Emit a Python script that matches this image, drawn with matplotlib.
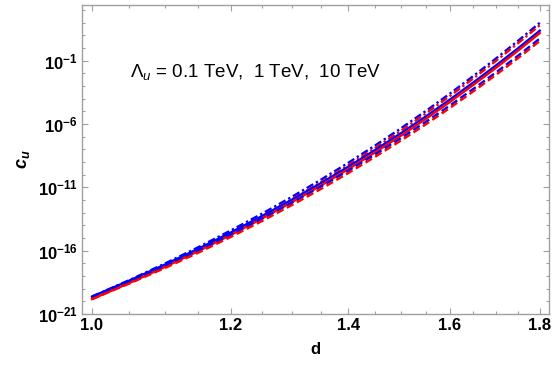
import numpy as np
import matplotlib
matplotlib.use("Agg")
import matplotlib.pyplot as plt
from matplotlib.ticker import FixedLocator, FixedFormatter, NullFormatter

plt.rcParams["font.family"] = ["Liberation Sans", "DejaVu Sans"]
plt.rcParams["mathtext.fontset"] = "custom"
plt.rcParams["mathtext.rm"] = "Liberation Sans"
plt.rcParams["mathtext.it"] = "Liberation Sans:italic"
plt.rcParams["mathtext.bf"] = "Liberation Sans:bold"
plt.rcParams["mathtext.sf"] = "Liberation Sans:bold:italic"

# scaling dimension d
d = [1.00, 1.05, 1.10, 1.15, 1.20, 1.25, 1.30, 1.35, 1.40,
     1.45, 1.50, 1.55, 1.60, 1.65, 1.70, 1.75, 1.80]

# log10(c_u)
blue_mid = [-19.63, -18.37, -17.11, -15.84, -14.56, -13.27, -11.98, -10.68, -9.37,
            -8.05, -6.73, -5.40, -4.06, -2.71, -1.36, 0.00, 1.37]
red_mid = [-19.82, -18.56, -17.30, -16.03, -14.75, -13.46, -12.17, -10.87, -9.56,
           -8.24, -6.92, -5.59, -4.25, -2.90, -1.55, -0.19, 1.18]
blue_hi = [-19.63, -18.33, -17.03, -15.72, -14.40, -13.08, -11.75, -10.41, -9.06,
           -7.70, -6.34, -4.97, -3.59, -2.20, -0.81, 0.59, 1.99]
red_hi = [-19.82, -18.52, -17.22, -15.91, -14.59, -13.27, -11.94, -10.60, -9.25,
          -7.89, -6.53, -5.16, -3.78, -2.39, -1.00, 0.40, 1.80]
blue_lo = [-19.63, -18.41, -17.19, -15.96, -14.72, -13.47, -12.21, -10.95, -9.68,
           -8.40, -7.12, -5.83, -4.53, -3.22, -1.91, -0.59, 0.75]
red_lo = [-19.82, -18.60, -17.38, -16.15, -14.91, -13.66, -12.40, -11.14, -9.87,
          -8.59, -7.31, -6.02, -4.72, -3.41, -2.10, -0.78, 0.56]

xticks = [1.0, 1.2, 1.4, 1.6, 1.8]
xtick_labels = ["1.0", "1.2", "1.4", "1.6", "1.8"]
xminor = [1.05, 1.10, 1.15, 1.25, 1.30, 1.35, 1.45, 1.50, 1.55, 1.65, 1.70, 1.75]
yexp = [-21, -16, -11, -6, -1]

fig = plt.figure(figsize=(5.54, 3.65), dpi=100)
ax = fig.add_axes([0.148, 0.1397, 0.843, 0.8466])

d = np.array(d)
lw = 1.7
dash = (0, (3.2, 1.6))
dashdot = (0, (3.2, 1.3, 1.0, 1.3))
ax.plot(d, 10 ** np.array(blue_hi), color="#0000ff", lw=lw, linestyle=dashdot)
ax.plot(d, 10 ** np.array(red_hi), color="#ff0000", lw=lw, linestyle=dashdot)
ax.plot(d, 10 ** np.array(blue_mid), color="#0000ff", lw=lw)
ax.plot(d, 10 ** np.array(red_mid), color="#ff0000", lw=lw)
ax.plot(d, 10 ** np.array(blue_lo), color="#0000ff", lw=lw, linestyle=dash)
ax.plot(d, 10 ** np.array(red_lo), color="#ff0000", lw=lw, linestyle=dash)

ax.set_xscale("log")
ax.set_yscale("log")
ax.set_xlim(0.987, 1.822)
ax.set_ylim(1e-21, 10 ** 3.4)

ax.xaxis.set_major_locator(FixedLocator(xticks))
ax.xaxis.set_major_formatter(FixedFormatter(xtick_labels))
ax.xaxis.set_minor_locator(FixedLocator(xminor))
ax.xaxis.set_minor_formatter(NullFormatter())

ax.yaxis.set_major_locator(FixedLocator([10.0 ** e for e in yexp]))
ax.yaxis.set_major_formatter(FixedFormatter([r"$\mathbf{10^{%d}}$" % e for e in yexp]))
ax.yaxis.set_minor_locator(FixedLocator([10.0 ** e for e in range(-20, 4) if e not in yexp]))
ax.yaxis.set_minor_formatter(NullFormatter())

frame = "#a0a0a0"
for s in ax.spines.values():
    s.set_color(frame)
    s.set_linewidth(1.0)
ax.tick_params(which="both", direction="in", top=True, right=True, color=frame, width=0.8)
ax.tick_params(which="major", length=4.5, labelsize=12, pad=3)
ax.tick_params(which="minor", length=2.5)
for lab in ax.get_xticklabels():
    lab.set_fontweight("bold")

ax.set_xlabel("d", fontsize=12, fontweight="bold", labelpad=6)
ax.set_ylabel(r"$\mathsf{c_u}$", fontsize=13, labelpad=4)

ax.text(0.103, 0.783, r"$\Lambda_u$ = 0.1 TeV,  1 TeV,  10 TeV", transform=ax.transAxes,
        fontsize=13.5, ha="left", va="center")

fig.savefig("out.png", dpi=100)
